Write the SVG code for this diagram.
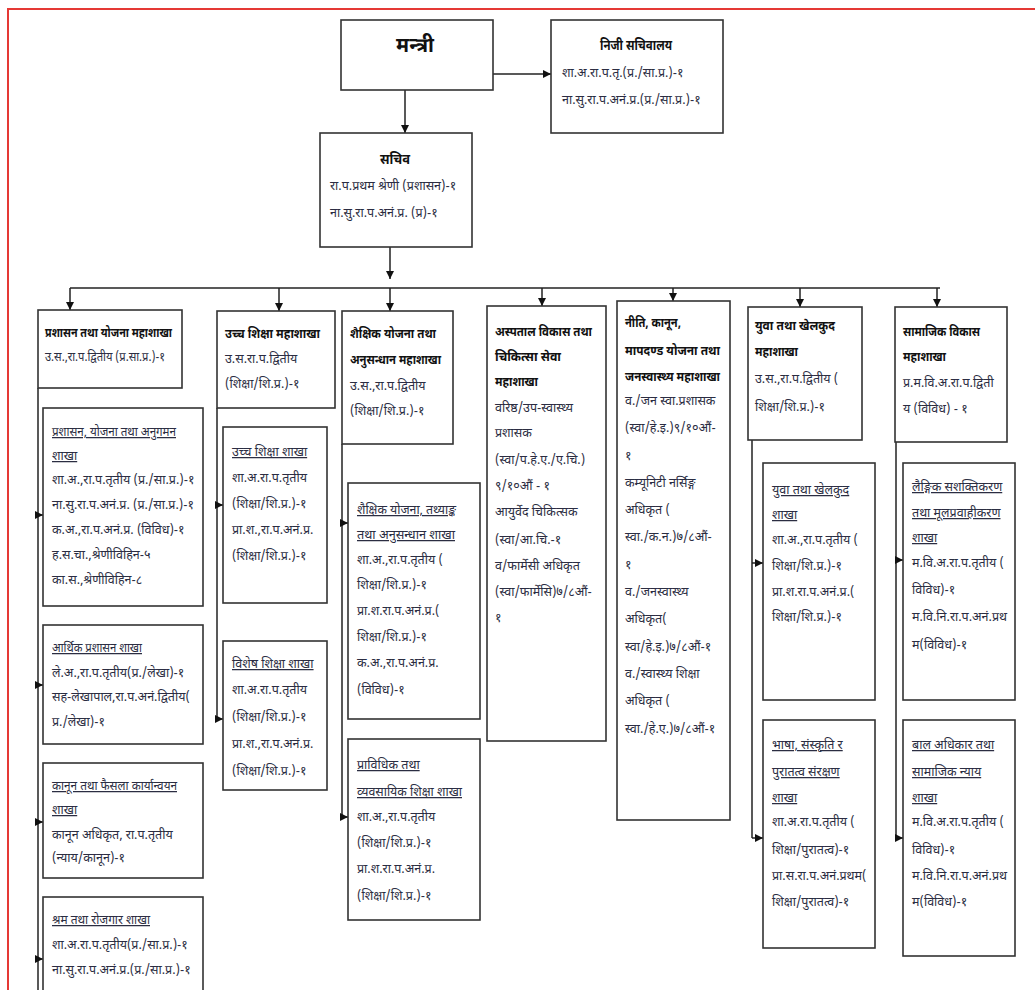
<svg xmlns="http://www.w3.org/2000/svg" width="1035" height="990" viewBox="0 0 1035 990">
<style>
.bx{fill:#fff;stroke:#333;stroke-width:1.6}
.t{font-family:"Noto Sans Devanagari","Noto Sans",sans-serif;font-size:13px;font-weight:bold;fill:#111}
.b{font-family:"Noto Sans Devanagari","Noto Sans",sans-serif;font-size:12.5px;fill:#2b2d42}
.u{font-family:"Noto Sans Devanagari","Noto Sans",sans-serif;font-size:12.5px;fill:#2b2d42;text-decoration:underline}
.c{fill:none;stroke:#222;stroke-width:1.5}
.rb{fill:none;stroke:#e53935;stroke-width:2}
</style>
<defs>
<marker id="ah" viewBox="0 0 10 10" refX="10" refY="5" markerWidth="8" markerHeight="8" markerUnits="userSpaceOnUse" orient="auto"><path d="M0,0 L10,5 L0,10 z" fill="#111"/></marker>
</defs>
<rect width="1035" height="990" fill="#fff"/>
<path class="rb" d="M8,990 V9 H1035"/>

<g id="connectors">
<path class="c" d="M493,74 H551" marker-end="url(#ah)"/>
<path class="c" d="M405,90 V133" marker-end="url(#ah)"/>
<path class="c" d="M390,247 V279" marker-end="url(#ah)"/>
<path class="c" d="M70,288 H940"/>
<path class="c" d="M70,288 V310" marker-end="url(#ah)"/>
<path class="c" d="M279,288 V311" marker-end="url(#ah)"/>
<path class="c" d="M390,288 V311" marker-end="url(#ah)"/>
<path class="c" d="M542,288 V306" marker-end="url(#ah)"/>
<path class="c" d="M673,288 V301" marker-end="url(#ah)"/>
<path class="c" d="M800,288 V307" marker-end="url(#ah)"/>
<path class="c" d="M937,288 V307" marker-end="url(#ah)"/>
<path class="c" d="M38,388 V990"/>
<path class="c" d="M38,515 H43" marker-end="url(#ah)"/>
<path class="c" d="M38,685 H43" marker-end="url(#ah)"/>
<path class="c" d="M38,822 H43" marker-end="url(#ah)"/>
<path class="c" d="M38,959 H43" marker-end="url(#ah)"/>
<path class="c" d="M217,408 V719"/>
<path class="c" d="M217,505 H223" marker-end="url(#ah)"/>
<path class="c" d="M217,719 H223" marker-end="url(#ah)"/>
<path class="c" d="M342,444 V817"/>
<path class="c" d="M342,523 H348" marker-end="url(#ah)"/>
<path class="c" d="M342,817 H348" marker-end="url(#ah)"/>
<path class="c" d="M752,440 V838"/>
<path class="c" d="M752,563 H763" marker-end="url(#ah)"/>
<path class="c" d="M752,838 H763" marker-end="url(#ah)"/>
<path class="c" d="M896,442 V838"/>
<path class="c" d="M896,560 H903" marker-end="url(#ah)"/>
<path class="c" d="M896,838 H903" marker-end="url(#ah)"/>
</g>

<g id="mantri">
<rect class="bx" x="341" y="20" width="152" height="70"/>
<text x="415" y="52" text-anchor="middle" style="font-family:'Noto Sans Devanagari','Noto Sans',sans-serif;font-size:20px;font-weight:bold;fill:#111">मन्त्री</text>
</g>

<g id="niji">
<rect class="bx" x="551" y="20" width="172" height="113"/>
<text class="t" x="636" y="50" text-anchor="middle" style="font-size:14px" textLength="72" lengthAdjust="spacingAndGlyphs">निजी सचिवालय</text>
<text class="b" x="562" y="77">शा.अ.रा.प.तृ.(प्र./सा.प्र.)-१</text>
<text class="b" x="562" y="104">ना.सु.रा.प.अनं.प्र.(प्र./सा.प्र.)-१</text>
</g>

<g id="sachiv">
<rect class="bx" x="320" y="133" width="152" height="114"/>
<text class="t" x="395" y="164" text-anchor="middle" style="font-size:14px" textLength="30" lengthAdjust="spacingAndGlyphs">सचिव</text>
<text class="b" x="330" y="190">रा.प.प्रथम श्रेणी (प्रशासन)-१</text>
<text class="b" x="330" y="217">ना.सु.रा.प.अनं.प्र. (प्र)-१</text>
</g>

<g id="col1">
<rect class="bx" x="38" y="310" width="144" height="78"/>
<text class="t" x="45" y="337" textLength="127" lengthAdjust="spacingAndGlyphs">प्रशासन तथा योजना महाशाखा</text>
<text class="b" x="45" y="361" textLength="120" lengthAdjust="spacingAndGlyphs">उ.स.,रा.प.द्वितीय (प्र.सा.प्र.)-१</text>
</g>
<g id="col1a">
<rect class="bx" x="43" y="408" width="160" height="198"/>
<text class="u" x="52" y="436" textLength="124" lengthAdjust="spacingAndGlyphs">प्रशासन, योजना तथा अनुगमन</text>
<text class="u" x="52" y="460">शाखा</text>
<text class="b" x="52" y="484">शा.अ.,रा.प.तृतीय (प्र./सा.प्र.)-१</text>
<text class="b" x="52" y="509">ना.सु.रा.प.अनं.प्र. (प्र./सा.प्र.)-१</text>
<text class="b" x="52" y="534">क.अ.,रा.प.अनं.प्र. (विविध)-१</text>
<text class="b" x="52" y="559">ह.स.चा.,श्रेणीविहिन-५</text>
<text class="b" x="52" y="584">का.स.,श्रेणीविहिन-८</text>
</g>
<g id="col1b">
<rect class="bx" x="43" y="625" width="160" height="119"/>
<text class="u" x="52" y="652" textLength="90" lengthAdjust="spacingAndGlyphs">आर्थिक प्रशासन शाखा</text>
<text class="b" x="52" y="677">ले.अ.,रा.प.तृतीय(प्र./लेखा)-१</text>
<text class="b" x="52" y="701">सह-लेखापाल,रा.प.अनं.द्वितीय(</text>
<text class="b" x="52" y="726">प्र./लेखा)-१</text>
</g>
<g id="col1c">
<rect class="bx" x="43" y="763" width="160" height="115"/>
<text class="u" x="52" y="790" textLength="125" lengthAdjust="spacingAndGlyphs">कानून तथा फैसला कार्यान्वयन</text>
<text class="u" x="52" y="814">शाखा</text>
<text class="b" x="52" y="839">कानून अधिकृत, रा.प.तृतीय</text>
<text class="b" x="52" y="862">(न्याय/कानून)-१</text>
</g>
<g id="col1d">
<rect class="bx" x="43" y="897" width="160" height="110"/>
<text class="u" x="52" y="924" textLength="98" lengthAdjust="spacingAndGlyphs">श्रम तथा रोजगार शाखा</text>
<text class="b" x="52" y="949">शा.अ.रा.प.तृतीय(प्र./सा.प्र.)-१</text>
<text class="b" x="52" y="974">ना.सु.रा.प.अनं.प्र.(प्र./सा.प्र.)-१</text>
</g>

<g id="col2">
<rect class="bx" x="217" y="311" width="118" height="97"/>
<text class="t" x="225" y="338" textLength="95" lengthAdjust="spacingAndGlyphs">उच्च शिक्षा महाशाखा</text>
<text class="b" x="225" y="363">उ.स.रा.प.द्वितीय</text>
<text class="b" x="225" y="388">(शिक्षा/शि.प्र.)-१</text>
</g>
<g id="col2a">
<rect class="bx" x="223" y="427" width="104" height="176"/>
<text class="u" x="232" y="456">उच्च शिक्षा शाखा</text>
<text class="b" x="232" y="482">शा.अ.रा.प.तृतीय</text>
<text class="b" x="232" y="508">(शिक्षा/शि.प्र.)-१</text>
<text class="b" x="232" y="534">प्रा.श.,रा.प.अनं.प्र.</text>
<text class="b" x="232" y="560">(शिक्षा/शि.प्र.)-१</text>
</g>
<g id="col2b">
<rect class="bx" x="223" y="641" width="104" height="149"/>
<text class="u" x="232" y="668">विशेष शिक्षा शाखा</text>
<text class="b" x="232" y="694">शा.अ.रा.प.तृतीय</text>
<text class="b" x="232" y="721">(शिक्षा/शि.प्र.)-१</text>
<text class="b" x="232" y="748">प्रा.श.,रा.प.अनं.प्र.</text>
<text class="b" x="232" y="775">(शिक्षा/शि.प्र.)-१</text>
</g>

<g id="col3">
<rect class="bx" x="342" y="311" width="111" height="133"/>
<text class="t" x="350" y="338" textLength="86" lengthAdjust="spacingAndGlyphs">शैक्षिक योजना तथा</text>
<text class="t" x="350" y="364" textLength="91" lengthAdjust="spacingAndGlyphs">अनुसन्धान महाशाखा</text>
<text class="b" x="350" y="390">उ.स.,रा.प.द्वितीय</text>
<text class="b" x="350" y="415">(शिक्षा/शि.प्र.)-१</text>
</g>
<g id="col3a">
<rect class="bx" x="348" y="483" width="132" height="236"/>
<text class="u" x="357" y="514" textLength="99" lengthAdjust="spacingAndGlyphs">शैक्षिक योजना, तथ्याङ्क</text>
<text class="u" x="357" y="539" textLength="98" lengthAdjust="spacingAndGlyphs">तथा अनुसन्धान शाखा</text>
<text class="b" x="357" y="564">शा.अ.,रा.प.तृतीय (</text>
<text class="b" x="357" y="589">शिक्षा/शि.प्र.)-१</text>
<text class="b" x="357" y="615">प्रा.श.रा.प.अनं.प्र.(</text>
<text class="b" x="357" y="641">शिक्षा/शि.प्र.)-१</text>
<text class="b" x="357" y="667">क.अ.,रा.प.अनं.प्र.</text>
<text class="b" x="357" y="694">(विविध)-१</text>
</g>
<g id="col3b">
<rect class="bx" x="348" y="739" width="132" height="181"/>
<text class="u" x="357" y="769">प्राविधिक तथा</text>
<text class="u" x="357" y="796" textLength="105" lengthAdjust="spacingAndGlyphs">व्यवसायिक शिक्षा शाखा</text>
<text class="b" x="357" y="821">शा.अ.,रा.प.तृतीय</text>
<text class="b" x="357" y="847">(शिक्षा/शि.प्र.)-१</text>
<text class="b" x="357" y="873">प्रा.श.रा.प.अनं.प्र.</text>
<text class="b" x="357" y="900">(शिक्षा/शि.प्र.)-१</text>
</g>

<g id="col4">
<rect class="bx" x="487" y="306" width="119" height="435"/>
<text class="t" x="495" y="336" textLength="97" lengthAdjust="spacingAndGlyphs">अस्पताल विकास तथा</text>
<text class="t" x="495" y="361" textLength="66" lengthAdjust="spacingAndGlyphs">चिकित्सा सेवा</text>
<text class="t" x="495" y="386" textLength="43" lengthAdjust="spacingAndGlyphs">महाशाखा</text>
<text class="b" x="495" y="412">वरिष्ठ/उप-स्वास्थ्य</text>
<text class="b" x="495" y="437">प्रशासक</text>
<text class="b" x="495" y="464">(स्वा/प.हे.ए./ए.चि.)</text>
<text class="b" x="495" y="490">९/१०औं - १</text>
<text class="b" x="495" y="516">आयुर्वेद चिकित्सक</text>
<text class="b" x="495" y="544">(स्वा/आ.चि.-१</text>
<text class="b" x="495" y="570">व/फार्मेसी अधिकृत</text>
<text class="b" x="495" y="596">(स्वा/फार्मेसि)७/८औं-</text>
<text class="b" x="495" y="622">१</text>
</g>

<g id="col5">
<rect class="bx" x="617" y="301" width="113" height="519"/>
<text class="t" x="625" y="327" textLength="56" lengthAdjust="spacingAndGlyphs">नीति, कानून,</text>
<text class="t" x="625" y="355" textLength="95" lengthAdjust="spacingAndGlyphs">मापदण्ड योजना तथा</text>
<text class="t" x="625" y="381" textLength="95" lengthAdjust="spacingAndGlyphs">जनस्वास्थ्य महाशाखा</text>
<text class="b" x="625" y="405">व./जन स्वा.प्रशासक</text>
<text class="b" x="625" y="432">(स्वा/हे.इ.)९/१०औं-</text>
<text class="b" x="625" y="460">१</text>
<text class="b" x="625" y="487">कम्यूनिटी नर्सिङ्ग</text>
<text class="b" x="625" y="514">अधिकृत (</text>
<text class="b" x="625" y="541">स्वा./क.न.)७/८औं-</text>
<text class="b" x="625" y="569">१</text>
<text class="b" x="625" y="596">व./जनस्वास्थ्य</text>
<text class="b" x="625" y="623">अधिकृत(</text>
<text class="b" x="625" y="651">स्वा/हे.इ.)७/८औं-१</text>
<text class="b" x="625" y="678">व./स्वास्थ्य शिक्षा</text>
<text class="b" x="625" y="705">अधिकृत (</text>
<text class="b" x="625" y="733">स्वा./हे.ए.)७/८औं-१</text>
</g>

<g id="col6">
<rect class="bx" x="748" y="307" width="114" height="133"/>
<text class="t" x="755" y="330" textLength="80" lengthAdjust="spacingAndGlyphs">युवा तथा खेलकुद</text>
<text class="t" x="755" y="356" textLength="43" lengthAdjust="spacingAndGlyphs">महाशाखा</text>
<text class="b" x="755" y="383">उ.स.,रा.प.द्वितीय (</text>
<text class="b" x="755" y="411">शिक्षा/शि.प्र.)-१</text>
</g>
<g id="col6a">
<rect class="bx" x="763" y="463" width="112" height="237"/>
<text class="u" x="772" y="494">युवा तथा खेलकुद</text>
<text class="u" x="772" y="519">शाखा</text>
<text class="b" x="772" y="544">शा.अ.,रा.प.तृतीय (</text>
<text class="b" x="772" y="570">शिक्षा/शि.प्र.)-१</text>
<text class="b" x="772" y="596">प्रा.श.रा.प.अनं.प्र.(</text>
<text class="b" x="772" y="621">शिक्षा/शि.प्र.)-१</text>
</g>
<g id="col6b">
<rect class="bx" x="763" y="720" width="112" height="228"/>
<text class="u" x="772" y="749">भाषा, संस्कृति र</text>
<text class="u" x="772" y="776">पुरातत्व संरक्षण</text>
<text class="u" x="772" y="802">शाखा</text>
<text class="b" x="772" y="826">शा.अ.रा.प.तृतीय (</text>
<text class="b" x="772" y="854">शिक्षा/पुरातत्व)-१</text>
<text class="b" x="772" y="880">प्रा.स.रा.प.अनं.प्रथम(</text>
<text class="b" x="772" y="906">शिक्षा/पुरातत्व)-१</text>
</g>

<g id="col7">
<rect class="bx" x="895" y="307" width="112" height="135"/>
<text class="t" x="903" y="336" textLength="77" lengthAdjust="spacingAndGlyphs">सामाजिक विकास</text>
<text class="t" x="903" y="361" textLength="43" lengthAdjust="spacingAndGlyphs">महाशाखा</text>
<text class="b" x="903" y="387">प्र.म.वि.अ.रा.प.द्विती</text>
<text class="b" x="903" y="413">य (विविध) - १</text>
</g>
<g id="col7a">
<rect class="bx" x="903" y="463" width="112" height="237"/>
<text class="u" x="912" y="491">लैङ्गिक सशक्तिकरण</text>
<text class="u" x="912" y="517">तथा मूलप्रवाहीकरण</text>
<text class="u" x="912" y="542">शाखा</text>
<text class="b" x="912" y="567">म.वि.अ.रा.प.तृतीय (</text>
<text class="b" x="912" y="594">विविध)-१</text>
<text class="b" x="912" y="621">म.वि.नि.रा.प.अनं.प्रथ</text>
<text class="b" x="912" y="649">म(विविध)-१</text>
</g>
<g id="col7b">
<rect class="bx" x="903" y="720" width="112" height="236"/>
<text class="u" x="912" y="749">बाल अधिकार तथा</text>
<text class="u" x="912" y="776">सामाजिक न्याय</text>
<text class="u" x="912" y="802">शाखा</text>
<text class="b" x="912" y="826">म.वि.अ.रा.प.तृतीय (</text>
<text class="b" x="912" y="854">विविध)-१</text>
<text class="b" x="912" y="880">म.वि.नि.रा.प.अनं.प्रथ</text>
<text class="b" x="912" y="906">म(विविध)-१</text>
</g>
</svg>
